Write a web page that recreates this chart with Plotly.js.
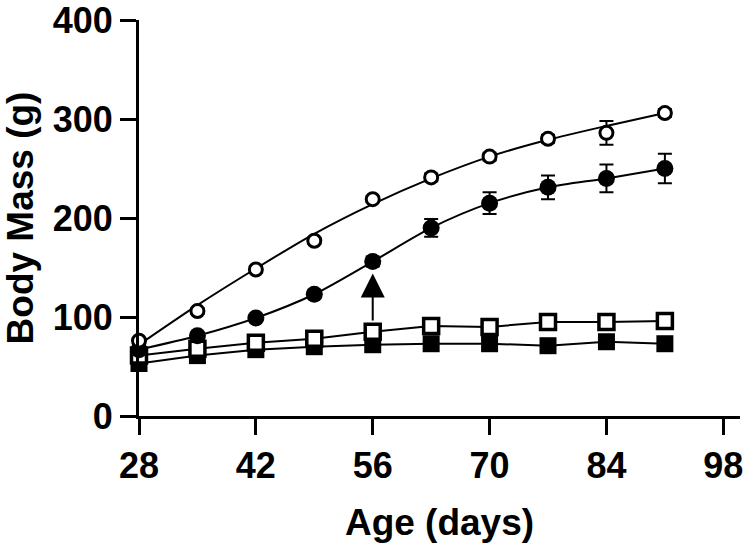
<!DOCTYPE html>
<html>
<head>
<meta charset="utf-8">
<script src="https://cdn.plot.ly/plotly-3.0.1.min.js"></script>
<style>html,body{margin:0;padding:0;background:#fff;}#chart{width:746px;height:543px;}</style>
</head>
<body>
<div id="chart"></div>
<script>
// Age (days)
const days = [28, 35, 42, 49, 56, 63, 70, 77, 84, 91];

// Open circles (measured means, SEM, fitted curve)
const openCircle    = [76, 106, 148, 177, 219, 241, 262, 280, 286, 306];
const openCircleErr = [3, 3, 3, 3, 3, 4, 4, 4, 12, 4];
const openCircleFit = [72, 112, 149, 184, 214, 240, 262, 279, 293, 306];

// Filled circles
const filledCircle    = [67, 81, 99, 123, 156, 190, 215, 231, 240, 250];
const filledCircleErr = [2, 3, 3, 4, 5, 9, 11, 12, 14, 15];

// Open squares
const openSquare = [61, 68, 74, 78, 85, 91, 90, 95, 95, 96];

// Filled squares
const filledSquare = [53, 61, 67, 70, 72, 73, 73, 71, 75, 73];

// Arrow (age, start mass, end mass)
const arrowDay = 56;
const arrowFrom = 95;
const arrowTo = 144;

const xTicks = [28, 42, 56, 70, 84, 98];
const yTicks = [0, 100, 200, 300, 400];

const FONT = 'Liberation Sans, Arial, sans-serif';

const traces = [
  {
    x: days, y: filledSquare, type: 'scatter', mode: 'lines+markers',
    line: {color: '#000', width: 2},
    marker: {symbol: 'square', size: 17, color: '#000'},
    cliponaxis: false, hoverinfo: 'skip'
  },
  {
    x: days, y: openSquare, type: 'scatter', mode: 'lines+markers',
    line: {color: '#000', width: 2},
    marker: {symbol: 'square', size: 15, color: '#fff', line: {color: '#000', width: 3.5}},
    cliponaxis: false, hoverinfo: 'skip'
  },
  {
    x: days, y: filledCircle, type: 'scatter', mode: 'lines+markers',
    line: {color: '#000', width: 2, shape: 'spline', smoothing: 0.8},
    marker: {symbol: 'circle', size: 17, color: '#000'},
    error_y: {type: 'data', array: filledCircleErr, visible: true, color: '#000', thickness: 2, width: 7},
    cliponaxis: false, hoverinfo: 'skip'
  },
  {
    x: days, y: openCircleFit, type: 'scatter', mode: 'lines',
    line: {color: '#000', width: 2, shape: 'spline', smoothing: 0.8},
    cliponaxis: false, hoverinfo: 'skip'
  },
  {
    x: days, y: openCircle, type: 'scatter', mode: 'markers',
    marker: {symbol: 'circle', size: 13, color: '#fff', line: {color: '#000', width: 3}},
    error_y: {type: 'data', array: openCircleErr, visible: true, color: '#000', thickness: 2, width: 7},
    cliponaxis: false, hoverinfo: 'skip'
  }
];

const layout = {
  width: 746, height: 543,
  margin: {l: 139, r: 6, t: 20, b: 127},
  paper_bgcolor: '#fff', plot_bgcolor: '#fff',
  showlegend: false,
  font: {family: FONT, color: '#000'},
  xaxis: {
    range: [28, 100],
    tickvals: xTicks, ticktext: xTicks.map(String),
    showgrid: false, zeroline: false,
    showline: true, linecolor: '#000', linewidth: 3,
    ticks: 'outside', ticklen: 16, tickwidth: 3, tickcolor: '#000',
    ticklabeloverflow: 'allow',
    tickfont: {family: FONT, size: 36, color: '#000', weight: 'bold'},
    title: {text: '<b>Age (days)</b>', font: {family: FONT, size: 37, color: '#000'}, standoff: 36}
  },
  yaxis: {
    range: [0, 400],
    tickvals: yTicks, ticktext: yTicks.map(String),
    showgrid: false, zeroline: false,
    showline: true, linecolor: '#000', linewidth: 3,
    ticks: 'outside', ticklen: 16, tickwidth: 3, tickcolor: '#000',
    ticklabeloverflow: 'allow',
    tickfont: {family: FONT, size: 36, color: '#000', weight: 'bold'},
    title: {text: '<b>Body Mass (g)</b>', font: {family: FONT, size: 37, color: '#000'}, standoff: 14}
  },
  annotations: [{
    x: arrowDay, y: arrowTo, ax: arrowDay, ay: arrowFrom,
    xref: 'x', yref: 'y', axref: 'x', ayref: 'y',
    text: '', showarrow: true,
    arrowhead: 2, arrowsize: 2.4, arrowwidth: 2, arrowcolor: '#000'
  }]
};

Plotly.newPlot('chart', traces, layout, {displayModeBar: false, staticPlot: true});
</script>
</body>
</html>
